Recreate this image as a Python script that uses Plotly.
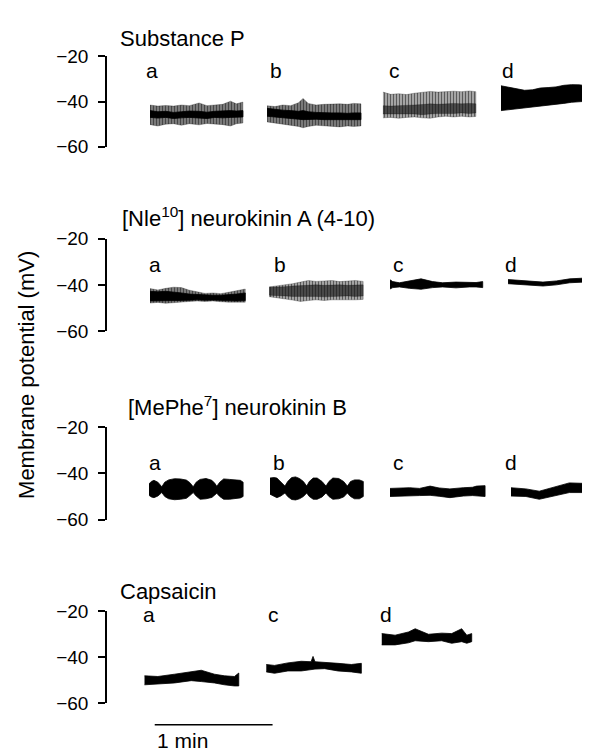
import plotly.graph_objects as go

# ---------------- text ----------------
PANEL_TITLES = ["Substance P",
                "[Nle<sup>10</sup>] neurokinin A (4-10)",
                "[MePhe<sup>7</sup>] neurokinin B",
                "Capsaicin"]
Y_TICKS = [-20, -40, -60]
Y_TICK_LABELS = ["\u221220", "\u221240", "\u221260"]
AXIS_TITLE = "Membrane potential (mV)"
SCALE_LABEL = "1 min"
SCALE_BAR_S = 60

# ---------------- data (time in s within each recording, membrane potential in mV) ----------------
# segment onset times on the common time axis (s)
SP_LABELS = ["a", "b", "c", "d"]
SP_START = [21.9, 81.5, 140.5, 200.6]
NKA_LABELS = ["a", "b", "c", "d"]
NKA_START = [21.9, 82.5, 144.1, 204.2]
NKB_LABELS = ["a", "b", "c", "d"]
NKB_START = [21.4, 83.0, 144.1, 205.7]
CAP_LABELS = ["a", "c", "d"]
CAP_START = [19.1, 81.1, 139.9]

# Substance P: outer envelope (HI/LO) and dense core (CHI/CLO)
SP_A_T = [0, 4, 8, 12, 16, 20, 25, 29, 33, 37, 41, 44, 47.3]
SP_A_HI = [-41.5, -42.0, -41.7, -42.0, -41.5, -41.8, -40.6, -41.8, -41.5, -41.2, -39.8, -41.0, -40.2]
SP_A_LO = [-50.2, -50.8, -50.0, -49.8, -50.5, -49.8, -50.3, -49.7, -50.0, -50.2, -50.8, -49.8, -49.5]
SP_A_CHI = [-44.0, -44.5, -44.3, -44.8, -44.5, -44.2, -44.3, -44.7, -44.3, -44.0, -44.0, -44.2, -44.0]
SP_A_CLO = [-47.0, -47.3, -47.0, -47.5, -47.2, -47.0, -47.3, -47.5, -47.0, -47.2, -47.0, -46.8, -46.8]

SP_B_T = [0, 4, 8, 12, 16, 18.3, 21, 25, 29, 33, 37, 41, 44, 47.8]
SP_B_HI = [-41.8, -42.2, -41.5, -41.8, -40.5, -38.6, -40.8, -41.5, -41.2, -41.0, -41.0, -41.2, -40.8, -41.0]
SP_B_LO = [-49.0, -49.5, -49.8, -50.5, -51.0, -51.6, -51.0, -50.5, -50.8, -51.0, -51.2, -50.8, -51.0, -50.8]
SP_B_CHI = [-43.0, -43.5, -43.8, -44.0, -44.3, -44.0, -44.5, -44.8, -45.0, -45.0, -45.0, -45.2, -45.0, -45.0]
SP_B_CLO = [-46.5, -46.8, -47.0, -47.5, -47.8, -48.0, -48.0, -47.8, -48.0, -48.2, -48.0, -48.2, -48.0, -48.0]

SP_C_T = [0, 4, 8, 12, 16, 20, 24, 28, 32, 36, 40, 44, 47.3]
SP_C_HI = [-35.8, -36.8, -36.5, -36.9, -36.3, -35.8, -35.5, -35.8, -35.6, -35.4, -35.6, -35.3, -35.6]
SP_C_LO = [-47.2, -47.0, -47.4, -47.0, -46.8, -47.2, -47.4, -46.8, -46.5, -46.8, -46.5, -46.8, -46.6]
SP_C_CHI = [-41.8, -42.0, -41.8, -41.5, -41.5, -41.3, -41.0, -41.2, -41.0, -40.8, -41.0, -40.8, -41.0]
SP_C_CLO = [-45.5, -45.8, -45.8, -45.5, -45.5, -45.8, -45.5, -45.3, -45.2, -45.3, -45.0, -45.3, -45.0]

SP_D_T = [0, 4, 8, 12, 16, 20, 24, 28, 32, 36, 40, 44, 47.9]
SP_D_HI = [-33.0, -33.6, -34.5, -35.0, -34.8, -34.0, -33.8, -33.5, -32.8, -32.5, -32.6, -33.2, -33.5]
SP_D_LO = [-44.0, -43.8, -43.5, -43.0, -42.6, -42.2, -41.8, -41.2, -40.8, -40.3, -40.0, -39.8, -39.6]

# [Nle10] neurokinin A (4-10)
NKA_A_T = [0, 4, 8, 12, 16, 20, 24, 28, 32, 36, 40, 44, 48.5]
NKA_A_HI = [-41.6, -42.2, -41.5, -41.0, -41.2, -42.3, -43.0, -43.7, -43.5, -43.8, -43.2, -42.5, -41.8]
NKA_A_LO = [-47.9, -47.6, -48.0, -47.5, -47.4, -47.2, -47.0, -47.2, -47.0, -47.3, -47.5, -47.6, -47.5]
NKA_A_CHI = [-42.8, -43.0, -42.8, -43.0, -43.5, -44.0, -44.2, -44.5, -44.5, -44.5, -44.3, -44.0, -43.5]
NKA_A_CLO = [-47.0, -46.8, -47.0, -46.8, -46.8, -46.7, -46.5, -46.7, -46.6, -46.8, -46.8, -47.0, -46.8]

NKA_B_T = [0, 4, 8, 12, 16, 20, 24, 28, 32, 36, 40, 44, 47.9]
NKA_B_HI = [-40.9, -40.5, -40.0, -39.5, -38.8, -38.1, -38.5, -38.3, -38.1, -38.6, -38.3, -38.1, -38.5]
NKA_B_LO = [-45.1, -45.5, -46.0, -46.6, -47.2, -46.8, -46.5, -46.8, -46.5, -46.6, -46.4, -46.5, -46.3]
NKA_B_CHI = [-41.0, -41.0, -40.8, -40.5, -40.3, -40.0, -40.0, -40.2, -40.0, -40.0, -40.2, -40.0, -40.0]
NKA_B_CLO = [-44.5, -44.6, -44.8, -45.0, -45.2, -45.0, -45.0, -45.2, -45.0, -45.0, -44.8, -45.0, -44.8]

NKA_C_T = [0, 1.4, 4.8, 9.8, 15.8, 21.7, 26.8, 33.6, 40.4, 43.8, 47.2]
NKA_C_HI = [-37.8, -38.6, -39.1, -38.2, -37.4, -38.6, -39.1, -38.8, -39.1, -39.0, -38.6]
NKA_C_LO = [-41.8, -41.2, -40.9, -41.5, -41.9, -41.2, -40.9, -41.3, -40.9, -40.9, -41.2]

NKA_D_T = [0, 5.9, 12.7, 17.8, 24.6, 31.4, 38.2, 45.8]
NKA_D_HI = [-37.7, -38.1, -38.5, -38.8, -38.3, -37.4, -37.1, -37.1]
NKA_D_LO = [-39.5, -39.6, -40.2, -40.5, -40.0, -39.1, -38.8, -39.1]

# [MePhe7] neurokinin B
NKB_A_T = [0, 1.2, 2.5, 4.5, 6.5, 8, 10, 13, 16, 19, 20.8, 22.5, 24, 26, 29, 32, 33.5,
           34.5, 36, 38, 41, 44, 46.5, 47.9]
NKB_A_HI = [-44.5, -43.5, -43.0, -43.8, -45.8, -43.8, -42.8, -42.3, -42.4, -42.9, -44.0, -45.8,
            -43.8, -42.6, -42.2, -43.0, -44.3, -45.6, -43.8, -42.4, -42.6, -42.8, -43.0, -43.8]
NKB_A_LO = [-49.5, -50.2, -50.5, -49.8, -48.3, -50.0, -51.0, -51.4, -51.2, -50.8, -49.6, -48.3,
            -49.8, -51.2, -51.0, -50.4, -49.4, -48.6, -50.0, -51.2, -51.2, -51.0, -50.6, -50.0]

NKB_B_T = [0, 2, 3.5, 5.5, 7.6, 9, 11, 13, 15, 17, 18.7, 20, 22, 24, 26.5, 28.5, 30, 32, 35,
           37.5, 39.4, 41, 43, 45.5, 47.5]
NKB_B_HI = [-42.0, -41.8, -42.0, -43.5, -45.5, -43.5, -41.8, -41.5, -42.2, -43.5, -45.5, -43.5,
            -42.0, -42.0, -43.5, -45.5, -43.5, -42.0, -42.2, -43.5, -45.5, -43.5, -42.8, -42.8, -43.5]
NKB_B_LO = [-49.0, -50.0, -50.5, -49.8, -48.5, -50.0, -51.3, -51.5, -51.0, -50.0, -48.5, -50.0,
            -51.2, -51.2, -50.2, -48.5, -50.0, -51.2, -51.0, -50.2, -48.5, -50.0, -51.0, -51.0, -50.0]

NKB_C_T = [0, 5, 10, 15, 20.4, 25, 30.5, 37.3, 42, 44.1, 48.4]
NKB_C_HI = [-46.5, -46.4, -46.2, -46.5, -45.5, -46.3, -46.7, -46.2, -46.0, -45.5, -45.3]
NKB_C_LO = [-50.0, -49.8, -49.8, -49.6, -49.5, -49.9, -50.5, -49.8, -49.6, -49.8, -50.0]

NKB_D_T = [0, 7.6, 14.4, 21.2, 29.7, 36.5, 44.1]
NKB_D_HI = [-46.2, -46.7, -47.7, -46.2, -44.1, -44.3, -45.3]
NKB_D_LO = [-49.8, -50.0, -51.2, -50.0, -48.3, -48.3, -48.9]

# Capsaicin
CAP_A_T = [0, 6.8, 15.3, 23.8, 28.9, 35.6, 40.7, 45.8, 48]
CAP_A_HI = [-48.1, -48.4, -47.4, -46.4, -45.7, -47.4, -48.1, -48.4, -46.9]
CAP_A_LO = [-52.0, -51.6, -51.2, -50.2, -50.6, -51.2, -52.0, -52.5, -52.5]

CAP_C_T = [0, 4.2, 11.0, 17.8, 22.8, 23.8, 24.8, 29.7, 36.5, 43.3, 48.4]
CAP_C_HI = [-43.2, -43.6, -42.5, -41.8, -42.0, -39.7, -42.0, -42.2, -42.7, -43.2, -42.7]
CAP_C_LO = [-46.4, -47.0, -46.0, -46.0, -45.6, -45.3, -45.2, -45.0, -46.0, -46.4, -47.0]

CAP_D_T = [0, 6.8, 13.6, 17.0, 23.8, 30.5, 35.6, 40.7, 43.3, 45.8]
CAP_D_HI = [-29.8, -30.5, -29.1, -27.7, -30.1, -29.6, -29.8, -27.7, -30.5, -29.8]
CAP_D_LO = [-34.7, -34.7, -33.8, -32.9, -33.3, -32.9, -34.0, -33.3, -34.0, -33.3]

# ---------------- layout constants ----------------
FONT = "Liberation Sans"
W, H = 590, 751
X_RANGE = [0, 250]
PANEL_DOMAINS = [[0.8236, 0.9474], [0.5712, 0.6977], [0.3129, 0.4394], [0.0613, 0.1877]]
TITLE_POS = [(5.6, 0.972), (6.6, 0.727), (9.7, 0.469), (5.6, 0.2144)]
LABEL_Y = [-26.2, -31.2, -35.4, -21.5]
SP_LABEL_X = [18.8, 82.0, 142.6, 200.1]
NKA_LABEL_X = [20.4, 84.0, 144.6, 201.6]
NKB_LABEL_X = [20.4, 83.5, 144.6, 201.6]
CAP_LABEL_X = [17.3, 80.9, 138.0]

HATCH = dict(shape="|", fgcolor="black", bgcolor="#8c8c8c", size=3, solidity=0.5)
HATCH_LIGHT = dict(shape="|", fgcolor="black", bgcolor="#b4b4b4", size=3, solidity=0.45)
HATCH_DENSE = dict(shape="|", fgcolor="black", bgcolor="#5a5a5a", size=3, solidity=0.6)

fig = go.Figure()


def band(yref, start, t, hi, lo, pattern=None):
    xs = [start + v for v in t] + [start + v for v in reversed(t)]
    ys = list(hi) + list(reversed(lo))
    kw = dict(x=xs, y=ys, mode="lines", fill="toself", xaxis="x", yaxis=yref,
              hoverinfo="skip", showlegend=False)
    if pattern is None:
        kw.update(fillcolor="black", line=dict(color="black", width=0.8))
    else:
        kw.update(fillcolor=pattern["bgcolor"], fillpattern=pattern,
                  line=dict(color="rgba(0,0,0,0.5)", width=0.5))
    fig.add_trace(go.Scatter(**kw))


# Substance P
band("y", SP_START[0], SP_A_T, SP_A_HI, SP_A_LO, HATCH)
band("y", SP_START[0], SP_A_T, SP_A_CHI, SP_A_CLO)
band("y", SP_START[1], SP_B_T, SP_B_HI, SP_B_LO, HATCH)
band("y", SP_START[1], SP_B_T, SP_B_CHI, SP_B_CLO)
band("y", SP_START[2], SP_C_T, SP_C_HI, SP_C_LO, HATCH_LIGHT)
band("y", SP_START[2], SP_C_T, SP_C_CHI, SP_C_CLO, HATCH_DENSE)
band("y", SP_START[3], SP_D_T, SP_D_HI, SP_D_LO)
# NKA
band("y2", NKA_START[0], NKA_A_T, NKA_A_HI, NKA_A_LO, HATCH)
band("y2", NKA_START[0], NKA_A_T, NKA_A_CHI, NKA_A_CLO)
band("y2", NKA_START[1], NKA_B_T, NKA_B_HI, NKA_B_LO, HATCH_LIGHT)
band("y2", NKA_START[1], NKA_B_T, NKA_B_CHI, NKA_B_CLO, HATCH_DENSE)
band("y2", NKA_START[2], NKA_C_T, NKA_C_HI, NKA_C_LO)
band("y2", NKA_START[3], NKA_D_T, NKA_D_HI, NKA_D_LO)
# NKB
band("y3", NKB_START[0], NKB_A_T, NKB_A_HI, NKB_A_LO)
band("y3", NKB_START[1], NKB_B_T, NKB_B_HI, NKB_B_LO)
band("y3", NKB_START[2], NKB_C_T, NKB_C_HI, NKB_C_LO)
band("y3", NKB_START[3], NKB_D_T, NKB_D_HI, NKB_D_LO)
# Capsaicin
band("y4", CAP_START[0], CAP_A_T, CAP_A_HI, CAP_A_LO)
band("y4", CAP_START[1], CAP_C_T, CAP_C_HI, CAP_C_LO)
band("y4", CAP_START[2], CAP_D_T, CAP_D_HI, CAP_D_LO)

yax = dict(range=[-60, -20], tickvals=Y_TICKS, ticktext=Y_TICK_LABELS, ticks="outside",
           ticklen=7, tickwidth=1.5, tickcolor="black", showline=True, linewidth=1.5,
           linecolor="black", showgrid=False, zeroline=False, anchor="x",
           tickfont=dict(family=FONT, size=19, color="black"), ticklabelstandoff=6,
           fixedrange=True)

layout = dict(width=W, height=H, margin=dict(l=99, r=0, t=0, b=0),
              plot_bgcolor="white", paper_bgcolor="white", showlegend=False,
              font=dict(family=FONT, color="black"),
              xaxis=dict(range=X_RANGE, visible=False, domain=[0, 1], anchor="y4",
                         fixedrange=True))
for i, key in enumerate(["yaxis", "yaxis2", "yaxis3", "yaxis4"]):
    layout[key] = dict(yax, domain=PANEL_DOMAINS[i])
fig.update_layout(**layout)

ann = []
for (tx, ty), title in zip(TITLE_POS, PANEL_TITLES):
    ann.append(dict(text=title, x=tx, y=ty, xref="x", yref="paper", xanchor="left",
                    yanchor="middle", showarrow=False, font=dict(size=22)))
for yref, labs, xs, ly in [("y", SP_LABELS, SP_LABEL_X, LABEL_Y[0]),
                           ("y2", NKA_LABELS, NKA_LABEL_X, LABEL_Y[1]),
                           ("y3", NKB_LABELS, NKB_LABEL_X, LABEL_Y[2]),
                           ("y4", CAP_LABELS, CAP_LABEL_X, LABEL_Y[3])]:
    for lab, lx in zip(labs, xs):
        ann.append(dict(text=lab, x=lx, y=ly, xref="x", yref=yref, xanchor="left",
                        yanchor="middle", showarrow=False, font=dict(size=21)))
ann.append(dict(text=AXIS_TITLE, x=-0.163, y=0.511, xref="paper", yref="paper",
                textangle=-90, showarrow=False, font=dict(size=22),
                xanchor="center", yanchor="middle"))
ann.append(dict(text=SCALE_LABEL, x=24.3, y=1 - 743 / H, xref="x", yref="paper",
                xanchor="left", yanchor="middle", showarrow=False, font=dict(size=21)))
fig.update_layout(annotations=ann)

fig.add_shape(type="line", xref="x", yref="paper", x0=24.3, x1=24.3 + SCALE_BAR_S,
              y0=1 - 727 / H, y1=1 - 727 / H, line=dict(color="black", width=1.5))

fig.write_html("out.html")
